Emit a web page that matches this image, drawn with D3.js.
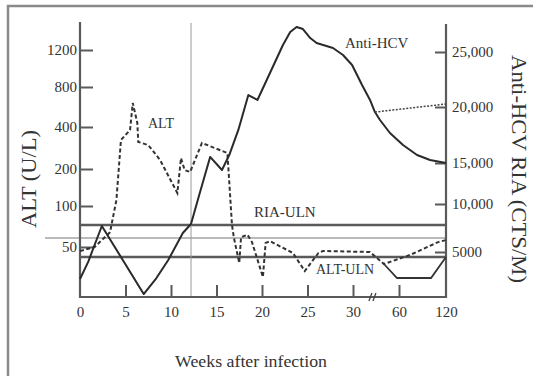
<!DOCTYPE html>
<html>
<head>
<meta charset="utf-8">
<script src="https://cdn.jsdelivr.net/npm/d3@7"></script>
<style>
  body { margin: 0; background: #fff; }
  svg { display: block; }
  text { font-family: "Liberation Serif", "DejaVu Serif", serif; fill: #333; }
</style>
</head>
<body>
<svg id="chart"></svg>
<script>
// ---- data ----
const weekTicks = [0, 5, 10, 15, 20, 25, 30, 60, 120];
const altTicks = [50, 100, 200, 400, 800, 1200];
const hcvTicks = [5000, 10000, 15000, 20000, 25000];
const hcvTickLabels = ['5000', '10,000', '15,000', '20,000', '25,000'];

// ALT (U/L), dashed
const altWeeks  = [0, 1.6, 3.3, 4.0, 4.5, 5.5, 5.8, 6.3, 6.4, 7.5, 8.8, 10.7, 11.1, 11.5, 12.1, 13.4, 16.2, 16.7, 16.9, 17.5, 17.7, 18.4, 18.9, 20.1, 20.4, 20.9, 23.4, 24.7, 26.2, 26.7, 41, 50.2, 74, 110, 120];
const altValues = [48, 50, 68, 116, 338, 386, 640, 440, 329, 314, 243, 135, 252, 197, 192, 324, 276, 77, 62, 42, 62, 65, 56, 35, 55, 57, 47, 38, 47, 48, 47.5, 41.5, 46, 56, 58.5];

// late ALT branch, solid
const lateWeeks  = [50.2, 58.7, 100.9, 120];
const lateValues = [41.5, 34.5, 34.5, 45];

// Anti-HCV RIA (CTS/M), solid
const hcvWeeks  = [0, 0.9, 1.6, 2.4, 7.0, 8.4, 9.7, 11.3, 12.2, 13.1, 14.3, 15.6, 16.4, 17.4, 18.5, 19.5, 22.3, 23.1, 23.8, 24.5, 25.3, 26.0, 27.8, 28.9, 29.9, 35.9, 41.1, 44.3, 47.6, 54.1, 65.1, 83, 99.6, 120];
const hcvValues = [2000, 3900, 5730, 7710, 330, 2110, 4110, 6980, 7920, 11100, 15540, 14150, 15710, 17950, 21090, 20640, 25640, 26820, 27270, 27090, 26270, 25820, 25360, 24730, 23820, 22000, 20640, 19550, 18840, 17680, 16610, 15710, 15270, 15000];

// Anti-HCV dotted branch
const hcvTailWeeks  = [44.3, 120];
const hcvTailValues = [19550, 20270];

const riaUln = 7800;   // right axis
const altRef = 61;     // thin line through the left axis
const altUln = 45;     // left axis
const markerWeek = 12.2;
const breakWeek = 43;

class DualAxisChart {

    constructor(_config) {
        this.config = {
            parentElement: _config.parentElement,
            containerWidth: _config.containerWidth || 533,
            containerHeight: _config.containerHeight || 376,
            margin: { top: 22, bottom: 79, right: 87, left: 80 }
        }
        this.initVis();
    }

    initVis() {
        let vis = this;

        vis.width = vis.config.containerWidth - vis.config.margin.left - vis.config.margin.right;
        vis.height = vis.config.containerHeight - vis.config.margin.top - vis.config.margin.bottom;

        vis.svg = d3.select(vis.config.parentElement)
            .attr('width', vis.config.containerWidth)
            .attr('height', vis.config.containerHeight);

        // scanned frame (top and left edges)
        vis.svg.append('path')
            .attr('d', 'M8,376 L8,6 L533,6')
            .attr('fill', 'none')
            .attr('stroke', '#8a8a8a')
            .attr('stroke-width', 2.5);

        vis.chart = vis.svg.append('g')
            .attr('transform', `translate(${vis.config.margin.left},${vis.config.margin.top})`);

        // broken x axis: 0-30 weeks linear, then squeezed to 60 and 120
        vis.xScale = d3.scaleLinear()
            .domain([0, 30, 60, 120])
            .range([0, 273, 319, vis.width]);

        // ALT axis is stretched unevenly in the figure
        vis.yAlt = d3.scaleLinear()
            .domain([25, 50, 100, 200, 400, 800, 1200])
            .range([vis.height, 225, 184, 147, 105, 65, 28]);

        vis.yHcv = d3.scaleLinear()
            .domain([0, 5000, 10000, 15000, 20000, 25000])
            .range([vis.height, 230, 182, 141, 85, 30]);

        const lineCol = '#5a5a5a';

        // reference lines
        vis.chart.append('line')
            .attr('x1', 0).attr('x2', vis.width)
            .attr('y1', vis.yHcv(riaUln)).attr('y2', vis.yHcv(riaUln))
            .attr('stroke', lineCol).attr('stroke-width', 2.5);
        vis.chart.append('line')
            .attr('x1', -35).attr('x2', vis.width)
            .attr('y1', vis.yAlt(altRef)).attr('y2', vis.yAlt(altRef))
            .attr('stroke', '#777').attr('stroke-width', 1.2);
        vis.chart.append('line')
            .attr('x1', 0).attr('x2', vis.width)
            .attr('y1', vis.yAlt(altUln)).attr('y2', vis.yAlt(altUln))
            .attr('stroke', lineCol).attr('stroke-width', 2.5);

        // marker at week 12
        vis.chart.append('line')
            .attr('x1', vis.xScale(markerWeek)).attr('x2', vis.xScale(markerWeek))
            .attr('y1', 1).attr('y2', vis.height)
            .attr('stroke', '#999').attr('stroke-width', 1);

        // axes
        const xAxis = d3.axisBottom(vis.xScale)
            .tickValues(weekTicks)
            .tickSizeInner(-12).tickSizeOuter(0).tickPadding(9);
        const xg = vis.chart.append('g')
            .attr('transform', `translate(0,${vis.height})`)
            .call(xAxis);

        const leftAxis = d3.axisLeft(vis.yAlt)
            .tickValues(altTicks)
            .tickFormat(d3.format('d'))
            .tickSizeInner(-13).tickSizeOuter(0).tickPadding(3);
        const lg = vis.chart.append('g').call(leftAxis);

        const rightAxis = d3.axisRight(vis.yHcv)
            .tickValues(hcvTicks)
            .tickFormat((d, i) => hcvTickLabels[i])
            .tickSizeInner(-11).tickSizeOuter(0).tickPadding(6);
        const rg = vis.chart.append('g')
            .attr('transform', `translate(${vis.width},0)`)
            .call(rightAxis);

        [xg, lg, rg].forEach(g => {
            g.select('.domain').remove();
            g.selectAll('.tick line').attr('stroke', lineCol).attr('stroke-width', 2);
            g.selectAll('.tick text')
                .attr('font-family', '"Liberation Serif", serif')
                .attr('font-size', 15)
                .attr('fill', '#444');
        });
        xg.selectAll('.tick').filter(d => d === 0 || d === 120).select('line').remove();

        // axis frame lines
        vis.chart.append('path')
            .attr('d', `M0,0 L0,${vis.height} L${vis.width},${vis.height} L${vis.width},2`)
            .attr('fill', 'none')
            .attr('stroke', lineCol)
            .attr('stroke-width', 2.2);

        // break mark on the x axis
        const bx = vis.xScale(breakWeek);
        vis.chart.append('path')
            .attr('d', `M${bx - 4},${vis.height + 4} L${bx - 1},${vis.height - 4} M${bx},${vis.height + 4} L${bx + 3},${vis.height - 4}`)
            .attr('stroke', '#444').attr('stroke-width', 1.3).attr('fill', 'none');

        // series
        const altLine = d3.line()
            .x(d => vis.xScale(d[0]))
            .y(d => vis.yAlt(d[1]));
        const hcvLine = d3.line()
            .x(d => vis.xScale(d[0]))
            .y(d => vis.yHcv(d[1]));

        vis.chart.append('path')
            .datum(d3.zip(altWeeks, altValues))
            .attr('d', altLine)
            .attr('fill', 'none').attr('stroke', '#333')
            .attr('stroke-width', 2).attr('stroke-dasharray', '4,2.5');

        vis.chart.append('path')
            .datum(d3.zip(lateWeeks, lateValues))
            .attr('d', altLine)
            .attr('fill', 'none').attr('stroke', '#333').attr('stroke-width', 1.8);

        vis.chart.append('path')
            .datum(d3.zip(hcvWeeks, hcvValues))
            .attr('d', hcvLine)
            .attr('fill', 'none').attr('stroke', '#2a2a2a')
            .attr('stroke-width', 2).attr('stroke-linejoin', 'round');

        vis.chart.append('path')
            .datum(d3.zip(hcvTailWeeks, hcvTailValues))
            .attr('d', hcvLine)
            .attr('fill', 'none').attr('stroke', '#444')
            .attr('stroke-width', 1.5).attr('stroke-dasharray', '2,1.5');

        // labels inside the plot
        const labels = [
            { text: 'ALT', x: 148, y: 128, size: 14 },
            { text: 'Anti-HCV', x: 345, y: 48, size: 15 },
            { text: 'RIA-ULN', x: 254, y: 217, size: 15 },
            { text: 'ALT-ULN', x: 316, y: 274, size: 14 }
        ];
        vis.svg.selectAll('.inner-label')
            .data(labels)
            .join('text')
            .attr('class', 'inner-label')
            .attr('x', d => d.x).attr('y', d => d.y)
            .attr('font-size', d => d.size)
            .text(d => d.text);

        // axis titles
        vis.svg.append('text')
            .attr('transform', 'translate(36,179) rotate(-90)')
            .attr('text-anchor', 'middle')
            .attr('font-size', 20)
            .attr('textLength', 98).attr('lengthAdjust', 'spacingAndGlyphs')
            .text('ALT (U/L)');

        vis.svg.append('text')
            .attr('transform', 'translate(512,169) rotate(90)')
            .attr('text-anchor', 'middle')
            .attr('font-size', 21)
            .attr('textLength', 228).attr('lengthAdjust', 'spacingAndGlyphs')
            .text('Anti-HCV RIA (CTS/M)');

        vis.svg.append('text')
            .attr('x', 251).attr('y', 367)
            .attr('text-anchor', 'middle')
            .attr('font-size', 16)
            .attr('textLength', 152).attr('lengthAdjust', 'spacingAndGlyphs')
            .text('Weeks after infection');
    }
}

new DualAxisChart({ parentElement: '#chart' });
</script>
</body>
</html>
